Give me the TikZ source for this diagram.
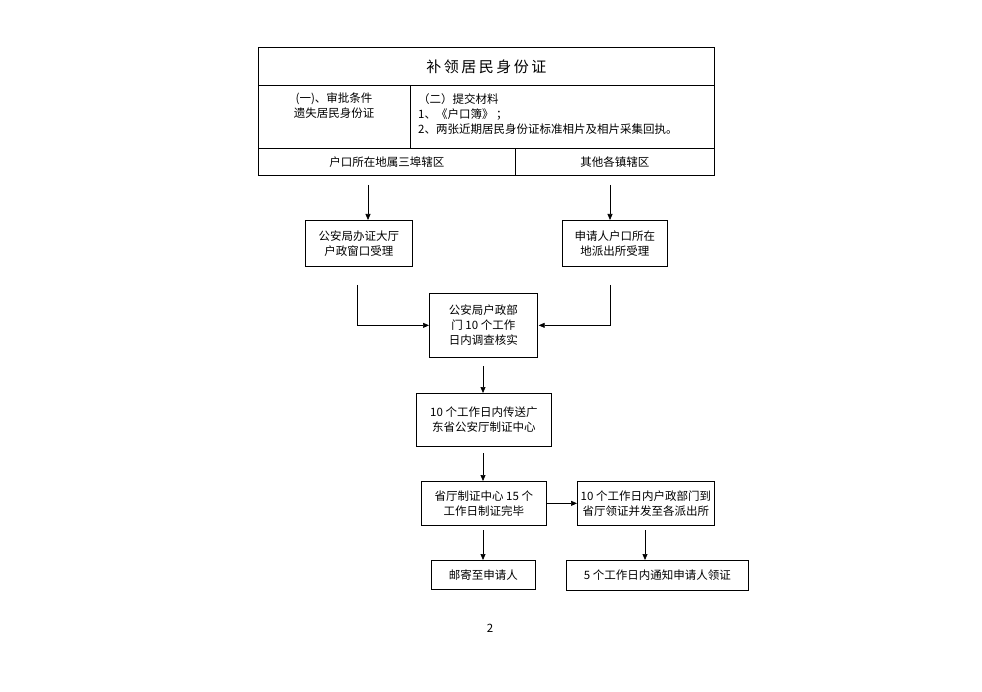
\documentclass[tikz,border=0pt]{standalone}
\usepackage{fontspec}
\newfontfamily\cjk{Noto Sans CJK SC}
\usetikzlibrary{arrows.meta}
\begin{document}
\begin{tikzpicture}[x=1pt,y=-1pt,
  every node/.style={font=\cjk\fontsize{11.5}{15}\selectfont, inner sep=0pt, align=center},
  cell/.style={draw, line width=0.8pt, anchor=north west},
  box/.style={draw, line width=0.7pt, anchor=north west},
  arr/.style={line width=0.7pt, -{Triangle[length=6pt,width=5pt]}}]
\useasboundingbox (0,0) rectangle (982,692);
% table
\node[cell, minimum width=456pt, minimum height=38pt, font=\cjk\fontsize{15}{18}\selectfont] (title) at (258,47) {补\,领\,居\,民\,身\,份\,证};
\node[cell, minimum width=152pt, minimum height=63pt] (c1) at (258,85) {};
\node[anchor=north] (c1t) at (334,93) {(一)、审批条件\\遗失居民身份证};
\node[cell, minimum width=304pt, minimum height=63pt] (c2) at (410,85) {};
\node[anchor=north west, align=left] (c2t) at (418,93) {（二）提交材料\\1、《户口簿》 ；\\2、两张近期居民身份证标准相片及相片采集回执。};
\node[cell, minimum width=257pt, minimum height=27pt] (r1) at (258,148) {户口所在地属三埠辖区};
\node[cell, minimum width=199pt, minimum height=27pt] (r2) at (515,148) {其他各镇辖区};
% boxes
\node[box, minimum width=107pt, minimum height=46pt] (A) at (305,220) {公安局办证大厅\\户政窗口受理};
\node[box, minimum width=105pt, minimum height=46pt] (B) at (562,220) {申请人户口所在\\地派出所受理};
\node[box, minimum width=108pt, minimum height=64pt] (C) at (429,293) {公安局户政部\\门 10 个工作\\日内调查核实};
\node[box, minimum width=135pt, minimum height=53pt] (D) at (416,393) {10 个工作日内传送广\\东省公安厅制证中心};
\node[box, minimum width=125pt, minimum height=44pt] (E) at (421,481) {省厅制证中心 15 个\\工作日制证完毕};
\node[box, minimum width=137pt, minimum height=44pt] (F) at (577,481) {10 个工作日内户政部门到\\省厅领证并发至各派出所};
\node[box, minimum width=104pt, minimum height=29pt] (G) at (431,560) {邮寄至申请人};
\node[box, minimum width=182pt, minimum height=30pt] (H) at (566,560) {5 个工作日内通知申请人领证};
\node (pg) at (490,628) {2};
% connectors
\coordinate (s1) at (368,185);
\coordinate (s2) at (610,185);
\coordinate (s3) at (357,285);
\coordinate (s4) at (610,285);
\coordinate (s5) at (483,366);
\coordinate (s6) at (483,453);
\coordinate (s7) at (483,530);
\coordinate (s8) at (645,530);
\draw[arr] (s1) -- (A.north -| s1);
\draw[arr] (s2) -- (B.north -| s2);
\draw[arr] (s3) |- (C.west);
\draw[arr] (s4) |- ([xshift=1pt]C.east);
\draw[arr] (s5) -- (D.north -| s5);
\draw[arr] (s6) -- (E.north -| s6);
\draw[arr] (E.east) -- (F.west);
\draw[arr] (s7) -- (G.north -| s7);
\draw[arr] (s8) -- (H.north -| s8);
\end{tikzpicture}
\end{document}
